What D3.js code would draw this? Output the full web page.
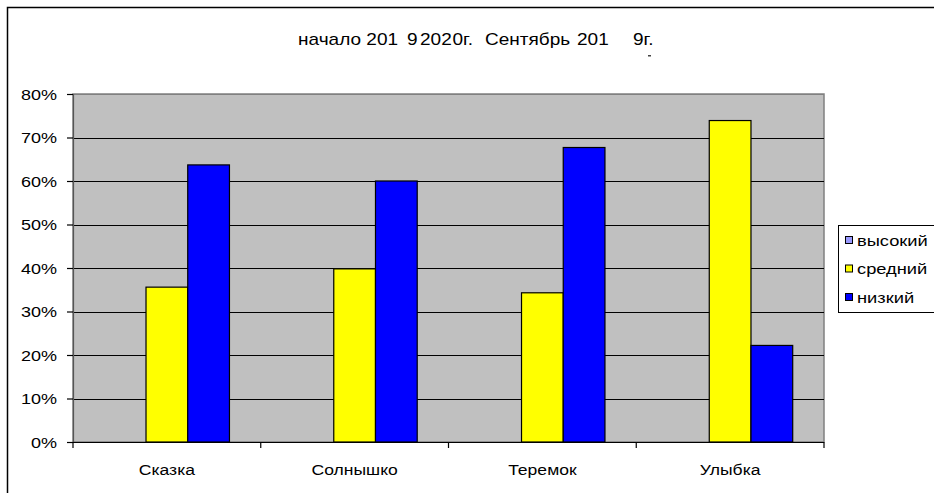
<!DOCTYPE html>
<html><head><meta charset="utf-8">
<script src="https://cdn.jsdelivr.net/npm/d3@7"></script>
<style>body{margin:0;background:#fff;} svg{display:block;font-family:"Liberation Sans",Arial,sans-serif;}</style>
</head><body>
<svg id="c" width="934" height="493"></svg>
<script>
const categories = ["Сказка", "Солнышко", "Теремок", "Улыбка"];
const seriesNames = ["высокий", "средний", "низкий"];
const high = [0, 0, 0, 0];
const mid = [0.356, 0.398, 0.343, 0.739];
const low = [0.637, 0.600, 0.677, 0.222];
const yTicks = [0, 0.1, 0.2, 0.3, 0.4, 0.5, 0.6, 0.7, 0.8];
const colors = ["#9999FF", "#FFFF00", "#0000FF"];
const titleParts = [["начало 201", 298], ["9", 407], ["202", 420], ["0г.", 452.5], ["Сентябрь", 485], ["201", 577], ["9г.", 633]];

const series = [high, mid, low];
const svg = d3.select("#c");
const L = 73, R = 824, T = 94, B = 442;

function sText(parent, x, y, txt, size, sx, anchor) {
  return parent.append("text")
    .attr("transform", `translate(${x},${y}) scale(${sx},1)`)
    .attr("font-size", size).attr("text-anchor", anchor || "start")
    .attr("fill", "#000").text(txt);
}

// outer frame (left and top visible)
svg.append("path").attr("d", "M7.5,493 V7.5 H934").attr("fill", "none").attr("stroke", "#000").attr("stroke-width", 1.5);

const x0 = d3.scaleBand().domain(categories).range([L, R]).paddingInner(0).paddingOuter(0);
const y = d3.scaleLinear().domain([0, 0.8]).range([B, T]);
const bw = x0.bandwidth() / 4.5;
const x1 = d3.scaleBand().domain(seriesNames).range([0.75 * bw, 3.75 * bw]).padding(0);

svg.append("rect").attr("x", L).attr("y", T).attr("width", R - L).attr("height", B - T)
  .attr("fill", "#C0C0C0").attr("stroke", "#808080").attr("stroke-width", 1.5);

svg.append("g").selectAll("line").data(yTicks.slice(1)).join("line")
  .attr("x1", L).attr("x2", R).attr("y1", d => Math.round(y(d)) + 0.5).attr("y2", d => Math.round(y(d)) + 0.5)
  .attr("stroke", d => d === 0.8 ? "#808080" : "#000").attr("stroke-width", 1.2);

const g = svg.append("g");
categories.forEach((c, i) => {
  series.forEach((s, j) => {
    if (s[i] <= 0) return;
    g.append("rect").attr("x", x0(c) + x1(seriesNames[j])).attr("y", y(s[i]))
      .attr("width", x1.bandwidth()).attr("height", y(0) - y(s[i]))
      .attr("fill", colors[j]).attr("stroke", "#000").attr("stroke-width", 1.2);
  });
});

// y axis
const ya = svg.append("g").attr("transform", `translate(${L},0)`)
  .call(d3.axisLeft(y).tickValues(yTicks).tickFormat("").tickSize(6));
ya.select(".domain").attr("stroke", "#555").attr("stroke-width", 1.2);
ya.selectAll(".tick line").attr("stroke", "#000").attr("stroke-width", 1.2);
const fmt = d3.format(".0%");
yTicks.forEach(t => sText(svg, 57, y(t) + 5.5, fmt(t), 15, 1.2, "end"));

// x axis
svg.append("line").attr("x1", L).attr("x2", R).attr("y1", B + 0.5).attr("y2", B + 0.5).attr("stroke", "#000").attr("stroke-width", 1.2);
const bounds = categories.map(c => x0(c)).concat([R]);
svg.append("g").selectAll("line").data(bounds).join("line")
  .attr("x1", d => d).attr("x2", d => d).attr("y1", B).attr("y2", B + 6).attr("stroke", "#000").attr("stroke-width", 1.2);
categories.forEach(c => sText(svg, x0(c) + x0.bandwidth() / 2, 475, c, 15, 1.17, "middle"));

// title
titleParts.forEach(p => sText(svg, p[1], 45, p[0], 17, 1.12, "start"));
svg.append("rect").attr("x", 648).attr("y", 55).attr("width", 3).attr("height", 1.5).attr("fill", "#444");

// legend
const lg = svg.append("g");
lg.append("rect").attr("x", 838.5).attr("y", 225.5).attr("width", 110).attr("height", 87)
  .attr("fill", "#fff").attr("stroke", "#000").attr("stroke-width", 1);
const rowsY = [240, 268.5, 297];
seriesNames.forEach((n, j) => {
  lg.append("rect").attr("x", 845.5).attr("y", rowsY[j] - 3.5).attr("width", 7).attr("height", 7)
    .attr("fill", colors[j]).attr("stroke", "#000").attr("stroke-width", 1);
  sText(lg, 857, rowsY[j] + 5.5, n, 15.5, 1.18, "start");
});
</script>
</body></html>
